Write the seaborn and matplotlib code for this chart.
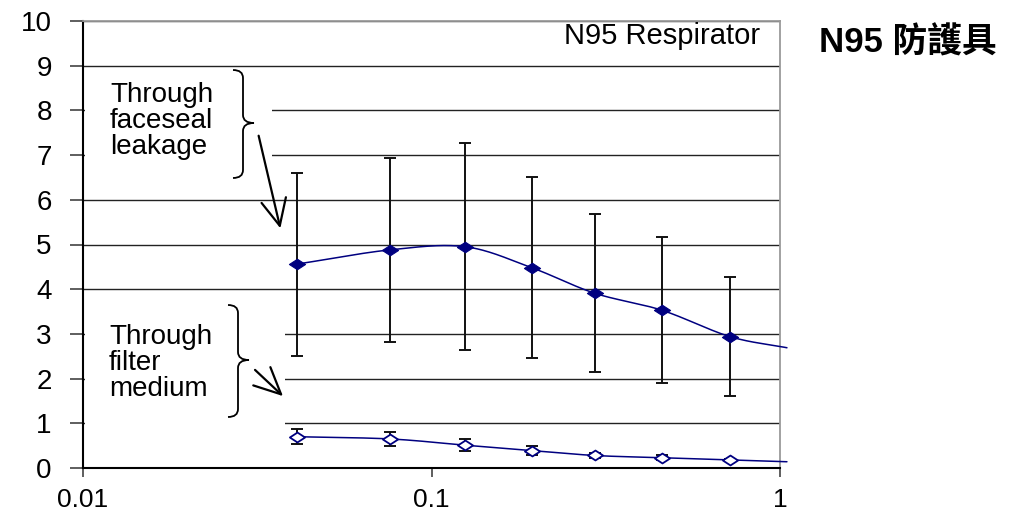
import numpy as np
import pandas as pd
import matplotlib
matplotlib.use("Agg")
import matplotlib.pyplot as plt
import seaborn as sns
from matplotlib.path import Path
from matplotlib.patches import PathPatch, FancyArrowPatch, Rectangle
from matplotlib.ticker import FixedLocator, FixedFormatter, NullLocator

# Penetration (%) of particles through an N95 respirator, by particle size (um)
particle_size = [0.041, 0.076, 0.125, 0.194, 0.294, 0.458, 0.718]
faceseal_mean = [4.56, 4.88, 4.95, 4.48, 3.91, 3.53, 2.94]
faceseal_err = [2.05, 2.06, 2.31, 2.02, 1.77, 1.63, 1.34]
filter_mean = [0.70, 0.65, 0.51, 0.39, 0.28, 0.23, 0.18]
filter_err = [0.17, 0.16, 0.14, 0.10, 0.06, 0.05, 0.03]
# continuation of each fitted curve just past the last size
tail_size = 1.047
faceseal_tail = 2.69
filter_tail = 0.14

y_ticks = list(range(0, 11))
x_ticks = [0.01, 0.1, 1]
x_tick_labels = ["0.01", "0.1", "1"]

panel_title = "N95 Respirator"
side_title = "N95 防護具"
faceseal_label = "Through\nfaceseal\nleakage"
filter_label = "Through\nfilter\nmedium"

NAVY = "#000080"


def catmull_rom(xs, ys, n=40):
    """Smooth curve through the points, computed in (log10 x, y)."""
    u = np.log10(np.asarray(xs, float))
    v = np.asarray(ys, float)
    pu = np.concatenate([[2 * u[0] - u[1]], u, [2 * u[-1] - u[-2]]])
    pv = np.concatenate([[2 * v[0] - v[1]], v, [2 * v[-1] - v[-2]]])
    out_u, out_v = [], []
    t = np.linspace(0, 1, n, endpoint=False)
    for i in range(1, len(pu) - 2):
        for arr, res in ((pu, out_u), (pv, out_v)):
            p0, p1, p2, p3 = arr[i - 1], arr[i], arr[i + 1], arr[i + 2]
            res.extend(0.5 * ((2 * p1) + (-p0 + p2) * t
                              + (2 * p0 - 5 * p1 + 4 * p2 - p3) * t ** 2
                              + (-p0 + 3 * p1 - 3 * p2 + p3) * t ** 3))
    out_u.append(u[-1])
    out_v.append(v[-1])
    return 10 ** np.array(out_u), np.array(out_v)


sns.set_theme(style="white")
plt.rcParams["font.family"] = ["Liberation Sans", "Noto Sans CJK TC", "DejaVu Sans"]

W, H = 1022, 517
fig = plt.figure(figsize=(W / 100, H / 100), dpi=100)
fig.patch.set_facecolor("white")
ax = fig.add_axes([83 / W, 1 - 468 / H, (780 - 83) / W, (468 - 21) / H])
ax.set_facecolor("white")
ax.set_xscale("log")

# smoothed curves
fx, fy = catmull_rom(particle_size + [tail_size], faceseal_mean + [faceseal_tail])
mx, my = catmull_rom(particle_size + [tail_size], filter_mean + [filter_tail])
curves = pd.concat([
    pd.DataFrame({"size": fx, "pen": fy, "route": "faceseal"}),
    pd.DataFrame({"size": mx, "pen": my, "route": "filter"}),
])
sns.lineplot(data=curves, x="size", y="pen", units="route", estimator=None,
             sort=False, color=NAVY, lw=1.1, ax=ax, zorder=4)
for ln in ax.lines:
    ln.set_clip_on(False)

# error bars
ax.errorbar(particle_size, faceseal_mean, yerr=faceseal_err, fmt="none",
            ecolor="#111111", elinewidth=1.4, capsize=4, capthick=1.4, zorder=3)
ax.errorbar(particle_size, filter_mean, yerr=filter_err, fmt="none",
            ecolor="#111111", elinewidth=1.4, capsize=4, capthick=1.4, zorder=3)

# wide diamond markers
diamond = Path([(-1, 0), (0, 0.65), (1, 0), (0, -0.65), (-1, 0)],
               [Path.MOVETO, Path.LINETO, Path.LINETO, Path.LINETO, Path.CLOSEPOLY])
pts = pd.DataFrame({"size": particle_size, "face": faceseal_mean, "filt": filter_mean})
sns.scatterplot(data=pts, x="size", y="face", marker=diamond, s=135, color=NAVY,
                edgecolor=NAVY, linewidth=0.8, ax=ax, zorder=5)
sns.scatterplot(data=pts, x="size", y="filt", marker=diamond, s=120, color="white",
                edgecolor=NAVY, linewidth=1.3, ax=ax, zorder=5)

ax.set_xlim(0.01, 1)
ax.set_ylim(0, 10)
ax.set_xlabel("")
ax.set_ylabel("")

ax.xaxis.set_major_locator(FixedLocator(x_ticks))
ax.xaxis.set_major_formatter(FixedFormatter(x_tick_labels))
ax.xaxis.set_minor_locator(NullLocator())
ax.set_yticks(y_ticks)
ax.set_yticklabels([str(v) for v in y_ticks])

ax.yaxis.grid(True, color="#222222", lw=1.0)
ax.xaxis.grid(False)
ax.set_axisbelow(True)

ax.tick_params(axis="y", left=True, direction="out", length=9.5, width=1.1,
               color="#333333", pad=13, labelsize=20, labelcolor="black")
ax.tick_params(axis="x", bottom=True, direction="out", length=6.5, width=1.1,
               color="#333333", pad=8, labelsize=19, labelcolor="black")

for side in ("left", "bottom"):
    ax.spines[side].set_color("black")
    ax.spines[side].set_linewidth(1.5)
for side in ("top", "right"):
    ax.spines[side].set_color("#9a9a9a")
    ax.spines[side].set_linewidth(1.3)

# white text boxes behind the annotations
ax.add_patch(Rectangle((0.0101, 6.3), 0.0348 - 0.0101, 2.5, facecolor="white",
                       edgecolor="none", zorder=1))
ax.add_patch(Rectangle((0.0101, 0.5), 0.038 - 0.0101, 3.3, facecolor="white",
                       edgecolor="none", zorder=1))


def fpx(x, y):
    return (x / W, 1 - y / H)


def brace(x0, y0, y1, xv, xtip, ytip, r=8):
    pts_px = [(x0, y0), (xv, y0), (xv, y0 + r),
              (xv, ytip - r), (xv, ytip), (xtip, ytip),
              (xv, ytip), (xv, ytip + r),
              (xv, y1 - r), (xv, y1), (x0, y1)]
    codes = [Path.MOVETO, Path.CURVE3, Path.CURVE3,
             Path.LINETO, Path.CURVE3, Path.CURVE3,
             Path.CURVE3, Path.CURVE3,
             Path.LINETO, Path.CURVE3, Path.CURVE3]
    verts = [fpx(x, y) for x, y in pts_px]
    fig.add_artist(PathPatch(Path(verts, codes), transform=fig.transFigure,
                             facecolor="none", edgecolor="black", lw=1.3))


def arrow(p0, p1):
    fig.add_artist(FancyArrowPatch(fpx(*p0), fpx(*p1), transform=fig.transFigure,
                                   arrowstyle="->,head_length=1.9,head_width=0.9",
                                   mutation_scale=10, color="black", lw=1.6))


brace(233, 70, 178, 243, 254, 123)
brace(228, 305, 417, 238, 249, 360)
arrow((258, 133), (281, 231))
arrow((253, 368), (285, 398))

fig.text(*fpx(110, 82), faceseal_label, ha="left", va="top", fontsize=20,
         linespacing=1.0, color="black")
fig.text(*fpx(109, 324), filter_label, ha="left", va="top", fontsize=20,
         linespacing=1.0, color="black")

fig.text(*fpx(760, 36), panel_title, ha="right", va="center", fontsize=21,
         color="black")
fig.text(*fpx(908, 43), side_title, ha="center", va="center", fontsize=25,
         fontweight="bold", color="black",
         family=["Liberation Sans", "Noto Sans CJK TC", "DejaVu Sans"])

fig.savefig("out.png", dpi=100, facecolor="white")
